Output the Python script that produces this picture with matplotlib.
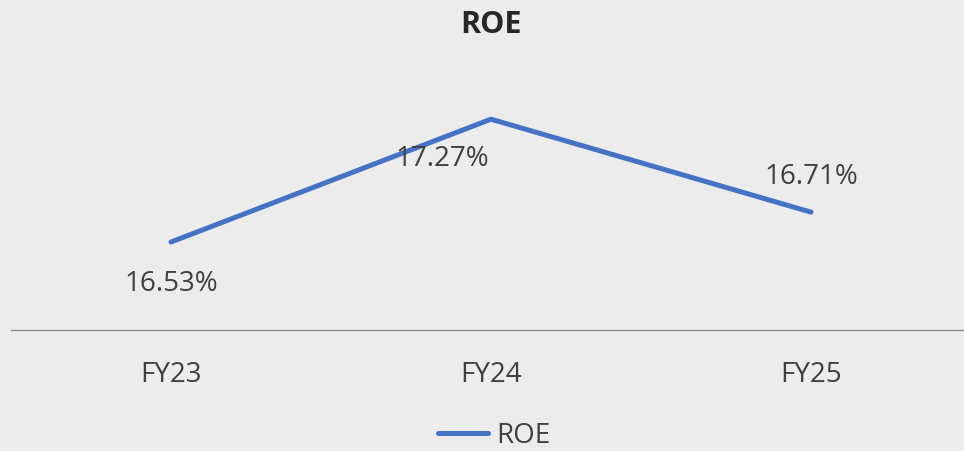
import matplotlib.pyplot as plt

years = ['FY23', 'FY24', 'FY25']
roe = [16.53, 17.27, 16.71]
labels = ['16.53%', '17.27%', '16.71%']
# label offsets in points (dx, dy) relative to each point
offsets = [(0, -30), (-35, -29), (0, 25)]

bg = '#ececec'
plt.rcParams['font.family'] = ['Open Sans', 'DejaVu Sans']

fig = plt.figure(figsize=(9.64, 4.51), dpi=100, facecolor=bg)
ax = fig.add_axes([11 / 964, 121 / 451, 960 / 964, 249 / 451])
ax.set_facecolor(bg)

x = list(range(len(years)))
ax.plot(x, roe, color='#4472C4', linewidth=3.6, solid_capstyle='round', label='ROE')

for xi, yi, lab, (dx, dy) in zip(x, roe, labels, offsets):
    ax.annotate(lab, (xi, yi), xytext=(dx, dy), textcoords='offset points',
                ha='center', va='center', fontsize=20, color='#404040')

ax.set_xlim(-0.5, 2.5)
ax.set_ylim(16.0, 17.5)
ax.set_xticks(x)
ax.set_xticklabels(years, fontsize=20, color='#404040')
ax.tick_params(axis='x', length=0, pad=22)
ax.set_yticks([])
for s in ['top', 'right', 'left']:
    ax.spines[s].set_visible(False)
ax.spines['bottom'].set_color('#8c8c8c')
ax.spines['bottom'].set_linewidth(1)

fig.text(491 / 964, 1 - 25 / 451, 'ROE', ha='center', va='center',
         fontsize=22, fontweight='bold', color='#262626')

leg = fig.legend(loc='center', bbox_to_anchor=(494 / 964, 1 - 436 / 451),
                 frameon=False, fontsize=20, handlelength=1.8, handletextpad=0.3)
for t in leg.get_texts():
    t.set_color('#404040')

fig.savefig('out.png', dpi=100, facecolor=bg)
